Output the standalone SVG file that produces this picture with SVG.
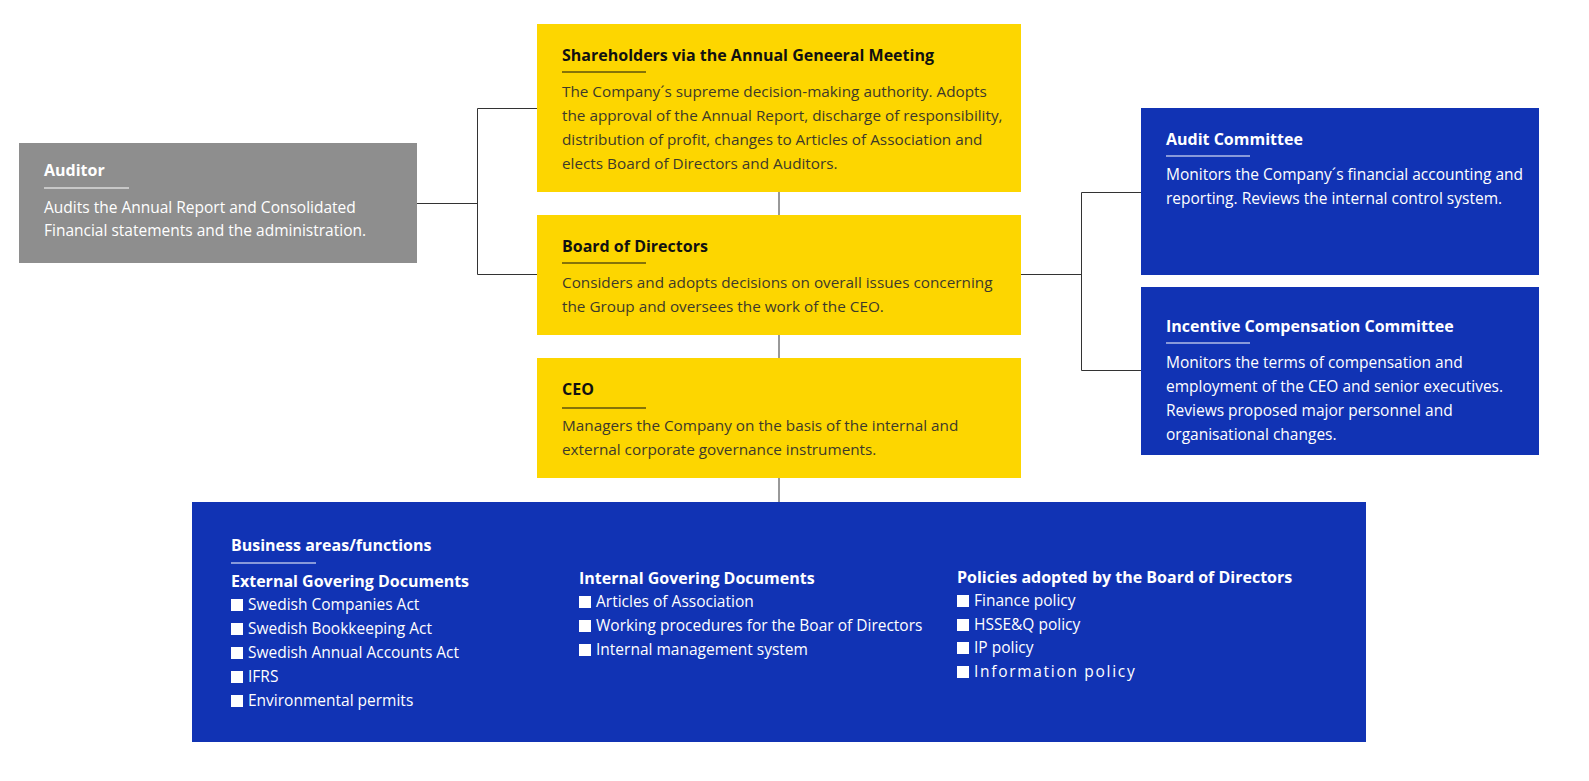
<svg xmlns="http://www.w3.org/2000/svg" width="1589" height="781" viewBox="0 0 1589 781">
<style>
text{font-family:"Open Sans","Noto Sans","Liberation Sans",sans-serif;font-size:15.5px}
.t{font-weight:bold;font-size:16px}
.y .t{fill:#111}
.y .b{fill:#3d3a2a;font-size:15.3px}
.w{fill:#fff}
.yl{fill:#fdd600}
.bl{fill:#1133b4}
.gr{fill:#8e8e8e}
.ul{stroke-width:1.2}
.c line,.c polyline{stroke:#333;stroke-width:1;fill:none}
.sq{fill:#fff}
</style>
<rect width="1589" height="781" fill="#fff"/>
<g class="c" id="connectors">
<line x1="779" y1="192" x2="779" y2="215"/>
<line x1="779" y1="335" x2="779" y2="358"/>
<line x1="779" y1="478" x2="779" y2="502"/>
<line x1="417" y1="203.5" x2="477" y2="203.5"/>
<polyline points="537,108.5 477.5,108.5 477.5,274.5 537,274.5"/>
<line x1="1021" y1="274.5" x2="1081" y2="274.5"/>
<polyline points="1141,192.5 1081.5,192.5 1081.5,370.5 1141,370.5"/>
</g>
<g id="shareholders" class="y">
<rect class="yl" x="537" y="24" width="484" height="168"/>
<text class="t" x="562" y="61">Shareholders via the Annual Geneeral Meeting</text>
<line class="ul" x1="562" y1="72" x2="646" y2="72" stroke="#111"/>
<text class="b" x="562" y="97">The Company´s supreme decision-making authority. Adopts</text>
<text class="b" x="562" y="121">the approval of the Annual Report, discharge of responsibility,</text>
<text class="b" x="562" y="145">distribution of profit, changes to Articles of Association and</text>
<text class="b" x="562" y="169">elects Board of Directors and Auditors.</text>
</g>
<g id="board" class="y">
<rect class="yl" x="537" y="215" width="484" height="120"/>
<text class="t" x="562" y="252">Board of Directors</text>
<line class="ul" x1="562" y1="263" x2="646" y2="263" stroke="#111"/>
<text class="b" x="562" y="288">Considers and adopts decisions on overall issues concerning</text>
<text class="b" x="562" y="312">the Group and oversees the work of the CEO.</text>
</g>
<g id="ceo" class="y">
<rect class="yl" x="537" y="358" width="484" height="120"/>
<text class="t" x="562" y="395">CEO</text>
<line class="ul" x1="562" y1="408" x2="646" y2="408" stroke="#111"/>
<text class="b" x="562" y="431">Managers the Company on the basis of the internal and</text>
<text class="b" x="562" y="455">external corporate governance instruments.</text>
</g>
<g id="auditor">
<rect class="gr" x="19" y="143" width="398" height="120"/>
<text class="t w" x="44" y="176">Auditor</text>
<line class="ul" x1="44" y1="188" x2="129" y2="188" stroke="#fff"/>
<text class="w" x="44" y="213">Audits the Annual Report and Consolidated</text>
<text class="w" x="44" y="236">Financial statements and the administration.</text>
</g>
<g id="audit-committee">
<rect class="bl" x="1141" y="108" width="398" height="167"/>
<text class="t w" x="1166" y="145">Audit Committee</text>
<line class="ul" x1="1166" y1="156" x2="1250" y2="156" stroke="#fff"/>
<text class="w" x="1166" y="180">Monitors the Company´s financial accounting and</text>
<text class="w" x="1166" y="204">reporting. Reviews the internal control system.</text>
</g>
<g id="incentive-committee">
<rect class="bl" x="1141" y="287" width="398" height="168"/>
<text class="t w" x="1166" y="332">Incentive Compensation Committee</text>
<line class="ul" x1="1166" y1="343" x2="1250" y2="343" stroke="#fff"/>
<text class="w" x="1166" y="368">Monitors the terms of compensation and</text>
<text class="w" x="1166" y="392">employment of the CEO and senior executives.</text>
<text class="w" x="1166" y="416">Reviews proposed major personnel and</text>
<text class="w" x="1166" y="440">organisational changes.</text>
</g>
<g id="business">
<rect class="bl" x="192" y="502" width="1174" height="240"/>
<text class="t w" x="231" y="551">Business areas/functions</text>
<line class="ul" x1="231" y1="563" x2="316" y2="563" stroke="#fff"/>
<text class="t w" x="231" y="587">External Govering Documents</text>
<rect class="sq" x="231" y="599" width="12" height="12"/><text class="w" x="248" y="610">Swedish Companies Act</text>
<rect class="sq" x="231" y="623" width="12" height="12"/><text class="w" x="248" y="634">Swedish Bookkeeping Act</text>
<rect class="sq" x="231" y="647" width="12" height="12"/><text class="w" x="248" y="658">Swedish Annual Accounts Act</text>
<rect class="sq" x="231" y="671" width="12" height="12"/><text class="w" x="248" y="682">IFRS</text>
<rect class="sq" x="231" y="695" width="12" height="12"/><text class="w" x="248" y="706">Environmental permits</text>
<text class="t w" x="579" y="584">Internal Govering Documents</text>
<rect class="sq" x="579" y="596" width="12" height="12"/><text class="w" x="596" y="607">Articles of Association</text>
<rect class="sq" x="579" y="620" width="12" height="12"/><text class="w" x="596" y="631">Working procedures for the Boar of Directors</text>
<rect class="sq" x="579" y="644" width="12" height="12"/><text class="w" x="596" y="655">Internal management system</text>
<text class="t w" x="957" y="583">Policies adopted by the Board of Directors</text>
<rect class="sq" x="957" y="595" width="12" height="12"/><text class="w" x="974" y="606">Finance policy</text>
<rect class="sq" x="957" y="619" width="12" height="12"/><text class="w" x="974" y="630">HSSE&amp;Q policy</text>
<rect class="sq" x="957" y="642" width="12" height="12"/><text class="w" x="974" y="653">IP policy</text>
<rect class="sq" x="957" y="666" width="12" height="12"/><text class="w" x="974" y="677" letter-spacing="1.7">Information policy</text>
</g>
</svg>
